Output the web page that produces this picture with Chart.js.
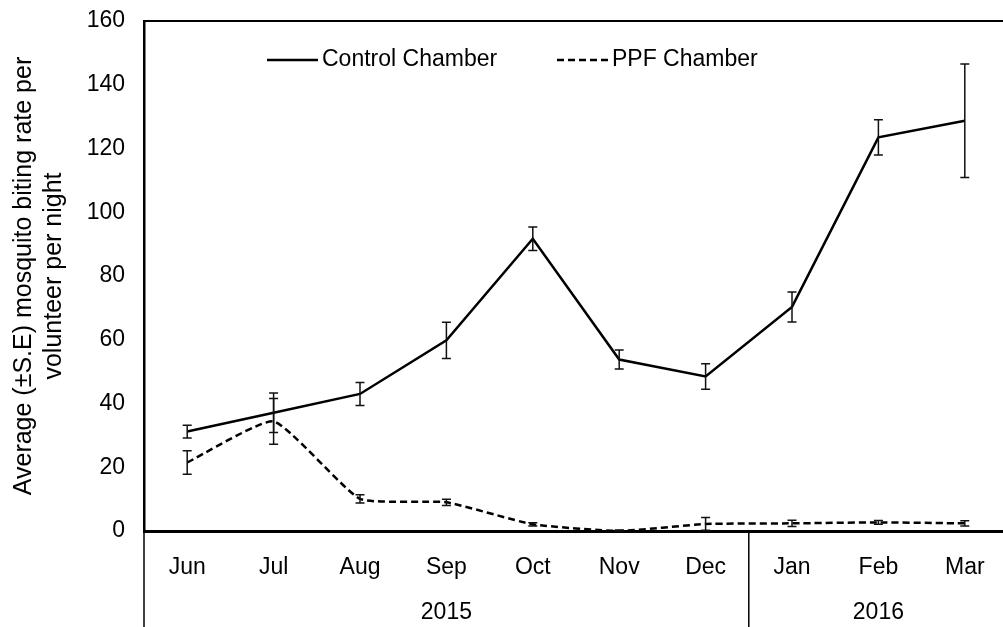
<!DOCTYPE html>
<html>
<head>
<meta charset="utf-8">
<script src="https://cdn.jsdelivr.net/npm/chart.js@4"></script>
<style>
  html, body { margin: 0; padding: 0; background: #fff; overflow: hidden; }
  #wrap { width: 1008px; height: 627px; }
</style>
</head>
<body>
<div id="wrap"><canvas id="my-chart"></canvas></div>
<script>
const months = ["Jun", "Jul", "Aug", "Sep", "Oct", "Nov", "Dec", "Jan", "Feb", "Mar"];
const yearLabels = ["2015", "2016"];
const yearSpans = [7, 3];

const controlValues = [31.2, 37.1, 43.0, 59.8, 91.7, 53.8, 48.5, 70.3, 123.5, 128.7];
const controlSE = [2.0, 6.2, 3.6, 5.7, 3.7, 3.0, 4.0, 4.7, 5.5, 17.8];
const ppfValues = [21.5, 34.4, 10.1, 9.0, 2.1, 0, 2.2, 2.4, 2.7, 2.4];
const ppfSE = [3.7, 7.2, 1.3, 1.0, 0.5, 0.3, 2.0, 1.0, 0.6, 0.8];

const yTicks = [0, 20, 40, 60, 80, 100, 120, 140, 160];

Chart.defaults.font.family = "'Liberation Sans', Arial, sans-serif";
Chart.defaults.font.size = 23;
Chart.defaults.color = "#000";

const errorBars = {
  id: "errorBars",
  afterDatasetsDraw(chart) {
    const ctx = chart.ctx;
    const y = chart.scales.y;
    ctx.save();
    ctx.strokeStyle = "#111";
    ctx.lineWidth = 1.5;
    ctx.setLineDash([]);
    chart.data.datasets.forEach((ds, di) => {
      const meta = chart.getDatasetMeta(di);
      ds.errors.forEach((se, i) => {
        const px = meta.data[i].x;
        const top = y.getPixelForValue(ds.data[i] + se);
        const bot = y.getPixelForValue(Math.max(ds.data[i] - se, 0));
        ctx.beginPath();
        ctx.moveTo(px, top);
        ctx.lineTo(px, bot);
        ctx.moveTo(px - 4.5, top);
        ctx.lineTo(px + 4.5, top);
        ctx.moveTo(px - 4.5, bot);
        ctx.lineTo(px + 4.5, bot);
        ctx.stroke();
      });
    });
    ctx.restore();
  },
};

const frameAndYears = {
  id: "frameAndYears",
  afterDraw(chart) {
    const ctx = chart.ctx;
    const area = chart.chartArea;
    const x = chart.scales.x;
    const step = x.getPixelForValue(1) - x.getPixelForValue(0);
    ctx.save();
    // top border
    ctx.strokeStyle = "#000";
    ctx.lineWidth = 2;
    ctx.beginPath();
    ctx.moveTo(area.left, area.top);
    ctx.lineTo(area.right, area.top);
    ctx.stroke();

    // group separators and year labels
    ctx.lineWidth = 1.5;
    ctx.font = "23px 'Liberation Sans', Arial, sans-serif";
    ctx.fillStyle = "#000";
    ctx.textAlign = "center";
    ctx.textBaseline = "middle";
    let start = 0;
    yearLabels.forEach((label, g) => {
      const left = x.getPixelForValue(start) - step / 2;
      const right = x.getPixelForValue(start + yearSpans[g] - 1) + step / 2;
      ctx.beginPath();
      ctx.moveTo(left, area.bottom);
      ctx.lineTo(left, chart.height);
      ctx.stroke();
      ctx.fillText(label, (left + right) / 2, 613);
      start += yearSpans[g];
    });

    // legend inside plot
    const items = [
      { x: 267, textX: 322 },
      { x: 557, textX: 612 },
    ];
    chart.data.datasets.forEach((ds, i) => {
      const it = items[i];
      ctx.lineWidth = ds.borderWidth;
      ctx.setLineDash(ds.borderDash || []);
      ctx.beginPath();
      ctx.moveTo(it.x, 60);
      ctx.lineTo(it.x + 51, 60);
      ctx.stroke();
      ctx.setLineDash([]);
      ctx.textAlign = "left";
      ctx.fillText(ds.label, it.textX, 60);
    });
    ctx.restore();
  },
};

const ctx = document.getElementById("my-chart").getContext("2d");
const chart = new Chart(ctx, {
  type: "line",
  data: {
    labels: months,
    datasets: [
      {
        label: "Control Chamber",
        data: controlValues,
        errors: controlSE,
        borderColor: "#000",
        backgroundColor: "#000",
        borderWidth: 2.5,
        pointRadius: 0,
        tension: 0,
      },
      {
        label: "PPF Chamber",
        data: ppfValues,
        errors: ppfSE,
        borderColor: "#000",
        backgroundColor: "#000",
        borderWidth: 2.5,
        borderDash: [7, 4],
        pointRadius: 0,
        tension: 0.15,
      },
    ],
  },
  options: {
    responsive: true,
    maintainAspectRatio: false,
    animation: false,
    layout: { padding: { top: 21, right: 0, bottom: 0, left: 0 } },
    plugins: {
      legend: { display: false },
      tooltip: { enabled: false },
    },
    scales: {
      x: {
        offset: true,
        grid: { display: false, drawTicks: false },
        border: { display: true, width: 3, color: "#000" },
        ticks: { padding: 23, maxRotation: 0, autoSkip: false },
        afterFit: (scale) => { scale.height = 96; },
      },
      y: {
        min: 0,
        max: 160,
        afterBuildTicks: (scale) => { scale.ticks = yTicks.map((v) => ({ value: v })); },
        grid: { display: false, drawTicks: false },
        border: { display: true, width: 2.5, color: "#000" },
        ticks: { padding: 19 },
        title: {
          display: true,
          text: ["Average (\u00b1S.E) mosquito biting rate per", "volunteer per night"],
          font: { size: 25, lineHeight: 30 / 25 },
          padding: { top: 9, bottom: 0 },
        },
        afterFit: (scale) => {
          scale.width = 144;
          scale.paddingTop = 0;
          scale.paddingBottom = 0;
        },
      },
    },
  },
  plugins: [errorBars, frameAndYears],
});
</script>
</body>
</html>
